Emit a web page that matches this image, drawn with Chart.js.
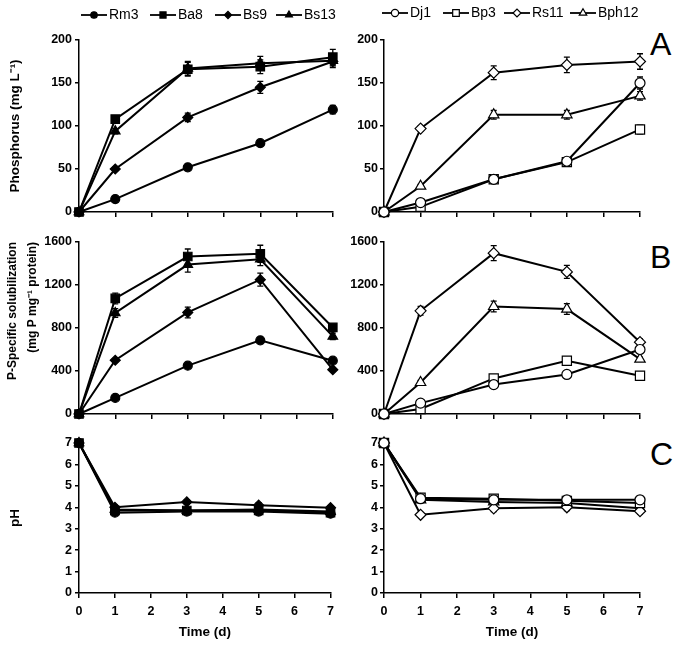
<!DOCTYPE html>
<html>
<head>
<meta charset="utf-8">
<script src="https://cdn.jsdelivr.net/npm/chart.js@4.4.0/dist/chart.umd.min.js"></script>
<style>
  body { margin: 0; background: #fff; width: 684px; height: 647px; position: relative; overflow: hidden;
         font-family: "Liberation Sans", Arial, sans-serif; }
  .panel { position: absolute; }
  .tag { position: absolute; left: 650px; font-size: 32px; line-height: 1; color: #000; }
</style>
</head>
<body>
<div class="panel" style="left:0;top:0;width:340px;height:225px"><canvas id="phos-left"></canvas></div>
<div class="panel" style="left:340px;top:0;width:310px;height:225px"><canvas id="phos-right"></canvas></div>
<div class="panel" style="left:0;top:225px;width:340px;height:202px"><canvas id="spec-left"></canvas></div>
<div class="panel" style="left:340px;top:225px;width:310px;height:202px"><canvas id="spec-right"></canvas></div>
<div class="panel" style="left:0;top:427px;width:340px;height:220px"><canvas id="ph-left"></canvas></div>
<div class="panel" style="left:340px;top:427px;width:310px;height:220px"><canvas id="ph-right"></canvas></div>
<div class="tag" style="top:28px">A</div>
<div class="tag" style="top:241px">B</div>
<div class="tag" style="top:438px">C</div>

<script>
// sampling days
const days = [0, 1, 3, 5, 7];
const leftStrains = ["Rm3", "Ba8", "Bs9", "Bs13"];
const rightStrains = ["Dj1", "Bp3", "Rs11", "Bph12"];

// soluble phosphorus (mg/L)
const phosRm3 = [0, 15, 52, 80, 119];
const phosBa8 = [0, 108, 166, 169, 180];
const phosBs9 = [0, 50, 110, 145, 175];
const phosBs13 = [0, 94, 167, 173, 176];
const phosDj1 = [0, 11, 38, 59, 150];
const phosBp3 = [0, 6, 38, 58, 96];
const phosRs11 = [0, 97, 162, 171, 175];
const phosBph12 = [0, 30, 113, 113, 135];
const phosErrRm3 = [0, 2, 2, 3, 5];
const phosErrBa8 = [0, 3, 8, 8, 9];
const phosErrBs9 = [0, 2, 5, 7, 5];
const phosErrBs13 = [0, 3, 8, 8, 8];
const phosErrDj1 = [0, 2, 2, 3, 7];
const phosErrBp3 = [0, 1, 2, 3, 5];
const phosErrRs11 = [0, 3, 8, 9, 9];
const phosErrBph12 = [0, 2, 5, 5, 5];

// P-specific solubilization (mg P / mg protein)
const specRm3 = [0, 150, 450, 685, 496];
const specBa8 = [0, 1075, 1465, 1490, 805];
const specBs9 = [0, 500, 945, 1250, 412];
const specBs13 = [0, 940, 1390, 1440, 722];
const specDj1 = [0, 101, 274, 368, 600];
const specBp3 = [0, 47, 331, 495, 356];
const specRs11 = [0, 960, 1496, 1322, 668];
const specBph12 = [0, 293, 1000, 976, 510];
const specErrRm3 = [0, 10, 15, 25, 15];
const specErrBa8 = [0, 50, 70, 80, 30];
const specErrBs9 = [0, 15, 50, 60, 15];
const specErrBs13 = [0, 40, 70, 60, 30];
const specErrDj1 = [0, 10, 10, 15, 30];
const specErrBp3 = [0, 10, 15, 15, 15];
const specErrRs11 = [0, 40, 70, 60, 30];
const specErrBph12 = [0, 20, 50, 50, 20];

// pH
const phRm3 = [7, 3.75, 3.8, 3.8, 3.7];
const phBa8 = [7, 3.85, 3.85, 3.85, 3.75];
const phBs9 = [7, 4.0, 4.25, 4.1, 3.98];
const phBs13 = [7, 3.9, 3.85, 3.9, 3.8];
const phDj1 = [7, 4.4, 4.35, 4.35, 4.35];
const phBp3 = [7, 4.45, 4.4, 4.3, 4.2];
const phRs11 = [7, 3.65, 3.95, 4.0, 3.82];
const phBph12 = [7, 4.35, 4.25, 4.2, 3.95];
const phErrRm3 = [0, 0.08, 0.08, 0.08, 0.08];
const phErrBa8 = [0, 0.08, 0.08, 0.08, 0.08];
const phErrBs9 = [0, 0.1, 0.1, 0.12, 0.1];
const phErrBs13 = [0, 0.08, 0.08, 0.08, 0.08];
const phErrDj1 = [0, 0.1, 0.1, 0.1, 0.15];
const phErrBp3 = [0, 0.1, 0.15, 0.1, 0.2];
const phErrRs11 = [0, 0.1, 0.15, 0.15, 0.15];
const phErrBph12 = [0, 0.1, 0.15, 0.1, 0.15];

const markers = ["circle", "rect", "rectRot", "triangle"];
const markerSize = { circle: 4.5, rect: 6, rectRot: 5, triangle: 5.5 };
const FONT = "'Liberation Sans', Arial, sans-serif";

function series(label, i, values, errors, filled) {
    const style = markers[i];
    return {
        label: label,
        data: days.map((d, k) => ({ x: d, y: values[k] })),
        errors: errors,
        borderColor: "#000",
        borderWidth: 2,
        backgroundColor: filled ? "#000" : "#fff",
        pointStyle: style,
        pointRadius: filled ? markerSize[style] : markerSize[style] + 0.5,
        pointBorderColor: "#000",
        pointBorderWidth: 1.2,
        pointBackgroundColor: filled ? "#000" : "#fff",
        clip: false,
        tension: 0,
    };
}

// vertical error bars with caps, drawn under the markers
const errorBars = {
    id: "errorBars",
    beforeDatasetsDraw(chart) {
        const ctx = chart.ctx;
        const ys = chart.scales.y;
        ctx.save();
        ctx.strokeStyle = "#000";
        ctx.lineWidth = 1.3;
        chart.data.datasets.forEach((ds, i) => {
            chart.getDatasetMeta(i).data.forEach((pt, k) => {
                const e = ds.errors[k];
                if (!e) return;
                const v = ds.data[k].y;
                const top = ys.getPixelForValue(v + e);
                const bot = ys.getPixelForValue(v - e);
                ctx.beginPath();
                ctx.moveTo(pt.x, top); ctx.lineTo(pt.x, bot);
                ctx.moveTo(pt.x - 3, top); ctx.lineTo(pt.x + 3, top);
                ctx.moveTo(pt.x - 3, bot); ctx.lineTo(pt.x + 3, bot);
                ctx.stroke();
            });
        });
        ctx.restore();
    }
};

// line + marker legend above the top panels
const lineLegend = {
    id: "lineLegend",
    afterDraw(chart, args, opts) {
        if (!opts.starts) return;
        const ctx = chart.ctx;
        ctx.save();
        ctx.font = "14px " + FONT;
        ctx.textBaseline = "middle";
        chart.data.datasets.forEach((ds, i) => {
            const x = opts.starts[i];
            const y = opts.y;
            ctx.strokeStyle = "#000";
            ctx.lineWidth = 1.8;
            ctx.beginPath(); ctx.moveTo(x, y); ctx.lineTo(x + 26, y); ctx.stroke();
            ctx.fillStyle = ds.pointBackgroundColor;
            ctx.lineWidth = 1.2;
            Chart.helpers.drawPoint(ctx, { pointStyle: ds.pointStyle, radius: ds.pointRadius * 0.72, rotation: 0, borderWidth: 1.2 }, x + 13, y);
            ctx.fillStyle = "#000";
            ctx.fillText(ds.label, x + 28, y);
        });
        ctx.restore();
    }
};

function makePanel(id, cfg) {
    const left = cfg.side === "left";
    const axisLine = { color: "#000", width: 1.5 };
    new Chart(document.getElementById(id), {
        type: "line",
        data: { datasets: cfg.datasets },
        plugins: [errorBars, lineLegend],
        options: {
            responsive: true,
            maintainAspectRatio: false,
            animation: false,
            layout: { padding: { top: cfg.padTop, right: left ? 6 : 10, left: 0, bottom: 0 } },
            plugins: {
                legend: { display: false },
                tooltip: { enabled: false },
                lineLegend: cfg.legend || {},
            },
            scales: {
                x: {
                    type: "linear", min: 0, max: 7,
                    border: axisLine,
                    grid: { drawOnChartArea: false, drawTicks: true, tickLength: 5, color: "#000", lineWidth: 1.5 },
                    ticks: { stepSize: 1, display: !!cfg.showX, color: "#000", padding: 6,
                             font: { family: FONT, size: 12.5, weight: "bold" } },
                    title: { display: !!cfg.showX, text: "Time (d)", color: "#000",
                             font: { family: FONT, size: 13.5, weight: "bold", lineHeight: 1.2 },
                             padding: { top: 0, bottom: 7 } },
                    afterFit(s) { s.height = cfg.xHeight; }
                },
                y: {
                    min: cfg.yMin, max: cfg.yMax,
                    border: axisLine,
                    grid: { drawOnChartArea: false, drawTicks: true, tickLength: 4, color: "#000", lineWidth: 1.5 },
                    ticks: { stepSize: cfg.yStep, color: "#000", padding: left ? 3 : 2,
                             format: { useGrouping: false },
                             font: { family: FONT, size: 12.5, weight: "bold" } },
                    title: cfg.yTitle ? {
                        display: true, text: cfg.yTitle, color: "#000", align: cfg.yTitleAlign || "center",
                        font: { family: FONT, size: cfg.yTitleSize, weight: "bold", lineHeight: cfg.yTitleLH },
                        padding: { top: cfg.yTitlePad, bottom: 0 }
                    } : { display: false },
                    afterFit(s) { s.width = left ? 79 : 44; }
                }
            }
        }
    });
}

makePanel("phos-left", {
    side: "left", padTop: 40, xHeight: 13, yMin: 0, yMax: 200, yStep: 50,
    yTitle: "Phosphorus (mg L\u207B\u00B9)", yTitleSize: 13.5, yTitleLH: 1.2, yTitlePad: 7,
    legend: { starts: [81, 150, 215, 276], y: 15 },
    datasets: [
        series(leftStrains[0], 0, phosRm3, phosErrRm3, true),
        series(leftStrains[1], 1, phosBa8, phosErrBa8, true),
        series(leftStrains[2], 2, phosBs9, phosErrBs9, true),
        series(leftStrains[3], 3, phosBs13, phosErrBs13, true),
    ]
});
makePanel("phos-right", {
    side: "right", padTop: 40, xHeight: 13, yMin: 0, yMax: 200, yStep: 50,
    legend: { starts: [42, 103, 164, 230], y: 13 },
    datasets: [
        series(rightStrains[0], 0, phosDj1, phosErrDj1, false),
        series(rightStrains[1], 1, phosBp3, phosErrBp3, false),
        series(rightStrains[2], 2, phosRs11, phosErrRs11, false),
        series(rightStrains[3], 3, phosBph12, phosErrBph12, false),
    ]
});
makePanel("spec-left", {
    side: "left", padTop: 17, xHeight: 13, yMin: 0, yMax: 1600, yStep: 400,
    yTitle: ["P-Specific solubilization", "(mg P mg\u207B\u00B9 protein)"], yTitleAlign: "end",
    yTitleSize: 12, yTitleLH: 1.7, yTitlePad: 2,
    datasets: [
        series(leftStrains[0], 0, specRm3, specErrRm3, true),
        series(leftStrains[1], 1, specBa8, specErrBa8, true),
        series(leftStrains[2], 2, specBs9, specErrBs9, true),
        series(leftStrains[3], 3, specBs13, specErrBs13, true),
    ]
});
makePanel("spec-right", {
    side: "right", padTop: 17, xHeight: 13, yMin: 0, yMax: 1600, yStep: 400,
    datasets: [
        series(rightStrains[0], 0, specDj1, specErrDj1, false),
        series(rightStrains[1], 1, specBp3, specErrBp3, false),
        series(rightStrains[2], 2, specRs11, specErrRs11, false),
        series(rightStrains[3], 3, specBph12, specErrBph12, false),
    ]
});
makePanel("ph-left", {
    side: "left", padTop: 16, xHeight: 54, showX: true, yMin: 0, yMax: 7, yStep: 1,
    yTitle: "pH", yTitleSize: 13.5, yTitleLH: 1.2, yTitlePad: 7,
    datasets: [
        series(leftStrains[0], 0, phRm3, phErrRm3, true),
        series(leftStrains[1], 1, phBa8, phErrBa8, true),
        series(leftStrains[2], 2, phBs9, phErrBs9, true),
        series(leftStrains[3], 3, phBs13, phErrBs13, true),
    ]
});
makePanel("ph-right", {
    side: "right", padTop: 16, xHeight: 54, showX: true, yMin: 0, yMax: 7, yStep: 1,
    datasets: [
        series(rightStrains[0], 0, phDj1, phErrDj1, false),
        series(rightStrains[1], 1, phBp3, phErrBp3, false),
        series(rightStrains[2], 2, phRs11, phErrRs11, false),
        series(rightStrains[3], 3, phBph12, phErrBph12, false),
    ]
});
</script>
</body>
</html>
